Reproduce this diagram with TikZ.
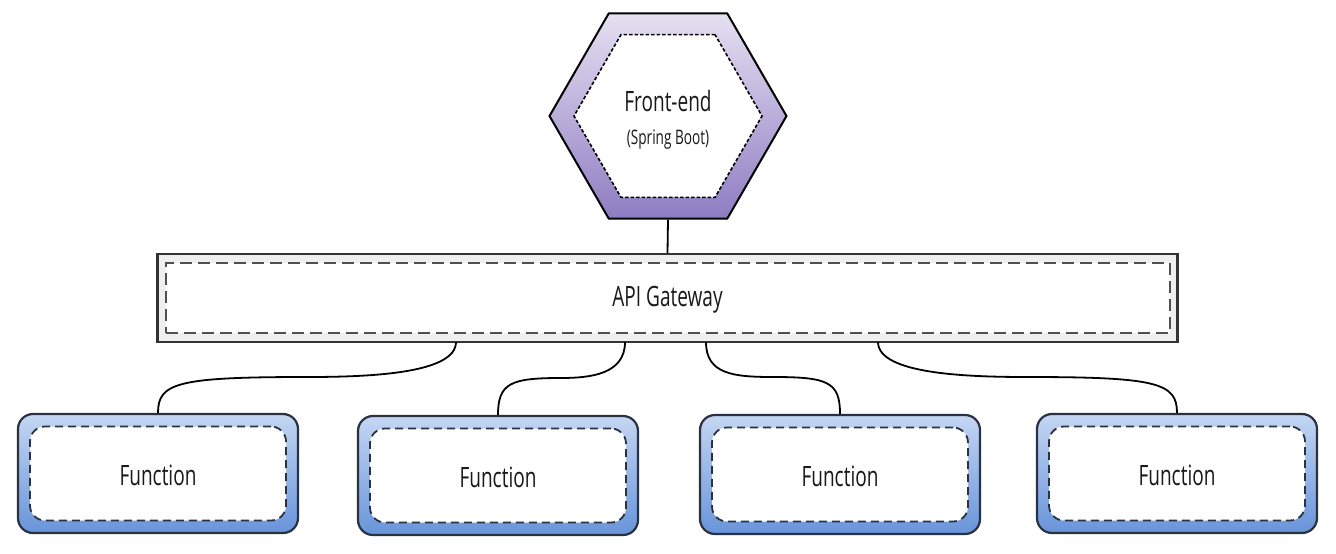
\documentclass[tikz,border=0pt]{standalone}
\usepackage{fontspec}
\setmainfont{Open Sans}[FakeStretch=0.68]
\usetikzlibrary{shapes.geometric,calc}
\definecolor{hexTop}{HTML}{E6E0F2}
\definecolor{hexBot}{HTML}{8E7CC2}
\definecolor{fnTop}{HTML}{C4D6F3}
\definecolor{fnBot}{HTML}{6894DA}
\definecolor{fnLine}{HTML}{2A3140}
\definecolor{gwFill}{HTML}{EFEFEF}
\definecolor{gwLine}{HTML}{333333}
\definecolor{gwDash}{HTML}{505050}
\begin{document}
\begin{tikzpicture}[x=1pt,y=-1pt,
  hexout/.style={regular polygon, regular polygon sides=6, minimum size=237pt, inner sep=0pt,
    draw=black, line width=2pt, top color=hexTop, bottom color=hexBot},
  hexin/.style={regular polygon, regular polygon sides=6, minimum size=188pt, inner sep=0pt,
    draw=black, line width=1.6pt, dash pattern=on 3.5pt off 2pt, fill=white},
  gwout/.style={rectangle, minimum width=1020pt, minimum height=88pt, inner sep=0pt,
    draw=gwLine, line width=2.2pt, fill=gwFill},
  gwin/.style={rectangle, minimum width=1004pt, minimum height=70pt, inner sep=0pt,
    draw=gwDash, line width=2pt, dash pattern=on 12pt off 6pt, fill=white},
  fnout/.style={rectangle, rounded corners=15pt, minimum width=280pt, minimum height=119pt, inner sep=0pt,
    draw=fnLine, line width=2.2pt, top color=fnTop, bottom color=fnBot},
  fnin/.style={rectangle, rounded corners=15pt, minimum width=256pt, minimum height=94pt, inner sep=0pt,
    draw=fnLine, line width=1.8pt, dash pattern=on 8pt off 5pt, fill=white},
  lbl/.style={font=\fontsize{28}{32}\selectfont, text=black!90},
  sublbl/.style={font=\fontsize{20}{24}\selectfont, text=black!90},
  conn/.style={draw=black, line width=1.8pt}
]
\useasboundingbox (0,0) rectangle (1336,554);

% Front-end hexagon
\node[hexout] (fe) at (668,116) {};
\node[hexin] (fei) at (668,116) {};
\node[lbl] (fet) at (668,101) {Front-end};
\node[sublbl] (fes) at (668,140) {(Spring Boot)};

% API Gateway
\node[gwout] (gw) at (667.5,298) {};
\node[gwin] (gwi) at (667.5,298) {};
\node[lbl] (gwt) at (667.5,300) {API Gateway};

% Functions
\node[fnout] (f1) at (158,473.5) {};
\node[fnin] (f1i) at (158,473.5) {};
\node[lbl] (f1t) at (158,475) {Function};
\node[fnout] (f2) at (498,475.5) {};
\node[fnin] (f2i) at (498,475.5) {};
\node[lbl] (f2t) at (498,477) {Function};
\node[fnout] (f3) at (840,474.5) {};
\node[fnin] (f3i) at (840,474.5) {};
\node[lbl] (f3t) at (840,476) {Function};
\node[fnout] (f4) at (1177,473.5) {};
\node[fnin] (f4i) at (1177,473.5) {};
\node[lbl] (f4t) at (1177,475) {Function};

% connector anchors
\coordinate (g1) at (456,342);
\coordinate (g2) at (625,342);
\coordinate (g3) at (706,342);
\coordinate (g4) at (878,342);
\coordinate (m1) at (307,377);
\coordinate (m2) at (561,378);
\coordinate (m3) at (773,377);
\coordinate (m4) at (1027,377);

\draw[conn] (fe.south) -- (gw.north);

\draw[conn] (g1) .. controls ($(g1)+(0,32)$) and ($(m1)+(60,0)$) .. (m1)
  .. controls ($(m1)+(-130,0)$) and ($(f1.north)+(0,-30)$) .. (f1.north);
\draw[conn] (g2) .. controls ($(g2)+(0,32)$) and ($(m2)+(30,0)$) .. (m2)
  .. controls ($(m2)+(-50,0)$) and ($(f2.north)+(0,-32)$) .. (f2.north);
\draw[conn] (g3) .. controls ($(g3)+(0,32)$) and ($(m3)+(-40,0)$) .. (m3)
  .. controls ($(m3)+(55,0)$) and ($(f3.north)+(0,-32)$) .. (f3.north);
\draw[conn] (g4) .. controls ($(g4)+(0,32)$) and ($(m4)+(-60,0)$) .. (m4)
  .. controls ($(m4)+(130,0)$) and ($(f4.north)+(0,-30)$) .. (f4.north);
\end{tikzpicture}
\end{document}
